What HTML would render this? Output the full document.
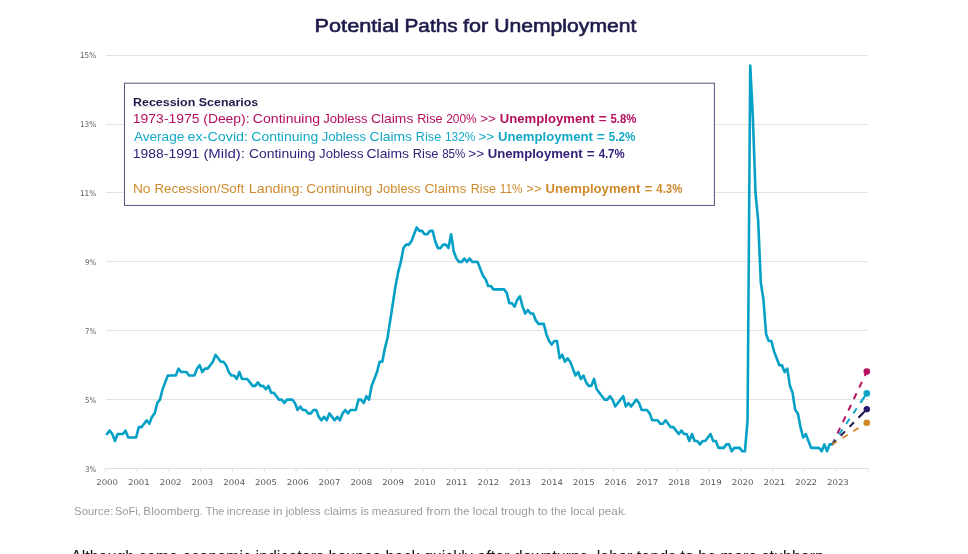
<!DOCTYPE html>
<html><head><meta charset="utf-8"><style>
html,body{margin:0;padding:0;background:#fff;}
body{width:968px;height:554px;overflow:hidden;position:relative;}
svg{position:absolute;left:0;top:0;will-change:transform;}
.yl{font-family:"DejaVu Sans",sans-serif;font-size:7.9px;fill:#606060;}
.xl{font-family:"DejaVu Sans",sans-serif;font-size:7.9px;fill:#555;}
.t{font-family:"Liberation Sans",sans-serif;}
.lg{font-family:"Liberation Sans",sans-serif;font-size:12.1px;}
.b{font-weight:bold;}
</style></head><body>
<svg width="968" height="554" viewBox="0 0 968 554">
<text x="314.56" y="32.3" class="t" fill="#1d1b4a" textLength="84.49" lengthAdjust="spacingAndGlyphs" style="font-size:18.2px" stroke="#1d1b4a" stroke-width="0.6">Potential</text>
<text x="404.54" y="32.3" class="t" fill="#1d1b4a" textLength="53.03" lengthAdjust="spacingAndGlyphs" style="font-size:18.2px" stroke="#1d1b4a" stroke-width="0.6">Paths</text>
<text x="462.98" y="32.3" class="t" fill="#1d1b4a" textLength="25.19" lengthAdjust="spacingAndGlyphs" style="font-size:18.2px" stroke="#1d1b4a" stroke-width="0.6">for</text>
<text x="494.21" y="32.3" class="t" fill="#1d1b4a" textLength="142.20" lengthAdjust="spacingAndGlyphs" style="font-size:18.2px" stroke="#1d1b4a" stroke-width="0.6">Unemployment</text>

<line x1="106" y1="55.50" x2="868" y2="55.50" stroke="#e3e3e3" stroke-width="1"/>
<text x="96.3" y="58.22" text-anchor="end" class="yl" textLength="16.4" lengthAdjust="spacingAndGlyphs">15%</text>
<line x1="106" y1="124.50" x2="868" y2="124.50" stroke="#e3e3e3" stroke-width="1"/>
<text x="96.3" y="127.10" text-anchor="end" class="yl" textLength="16.4" lengthAdjust="spacingAndGlyphs">13%</text>
<line x1="106" y1="192.50" x2="868" y2="192.50" stroke="#e3e3e3" stroke-width="1"/>
<text x="96.3" y="195.98" text-anchor="end" class="yl" textLength="16.4" lengthAdjust="spacingAndGlyphs">11%</text>
<line x1="106" y1="261.50" x2="868" y2="261.50" stroke="#e3e3e3" stroke-width="1"/>
<text x="96.3" y="264.86" text-anchor="end" class="yl" textLength="11.2" lengthAdjust="spacingAndGlyphs">9%</text>
<line x1="106" y1="330.50" x2="868" y2="330.50" stroke="#e3e3e3" stroke-width="1"/>
<text x="96.3" y="333.74" text-anchor="end" class="yl" textLength="11.2" lengthAdjust="spacingAndGlyphs">7%</text>
<line x1="106" y1="399.50" x2="868" y2="399.50" stroke="#e3e3e3" stroke-width="1"/>
<text x="96.3" y="402.62" text-anchor="end" class="yl" textLength="11.2" lengthAdjust="spacingAndGlyphs">5%</text>
<text x="96.3" y="471.50" text-anchor="end" class="yl" textLength="11.2" lengthAdjust="spacingAndGlyphs">3%</text>

<line x1="105" y1="468.50" x2="868.4" y2="468.50" stroke="#e0e0e0" stroke-width="1"/>
<line x1="105.40" y1="468.50" x2="105.40" y2="471.80" stroke="#e0e0e0" stroke-width="1"/>
<line x1="137.18" y1="468.50" x2="137.18" y2="471.80" stroke="#e0e0e0" stroke-width="1"/>
<line x1="168.95" y1="468.50" x2="168.95" y2="471.80" stroke="#e0e0e0" stroke-width="1"/>
<line x1="200.72" y1="468.50" x2="200.72" y2="471.80" stroke="#e0e0e0" stroke-width="1"/>
<line x1="232.50" y1="468.50" x2="232.50" y2="471.80" stroke="#e0e0e0" stroke-width="1"/>
<line x1="264.27" y1="468.50" x2="264.27" y2="471.80" stroke="#e0e0e0" stroke-width="1"/>
<line x1="296.05" y1="468.50" x2="296.05" y2="471.80" stroke="#e0e0e0" stroke-width="1"/>
<line x1="327.82" y1="468.50" x2="327.82" y2="471.80" stroke="#e0e0e0" stroke-width="1"/>
<line x1="359.60" y1="468.50" x2="359.60" y2="471.80" stroke="#e0e0e0" stroke-width="1"/>
<line x1="391.38" y1="468.50" x2="391.38" y2="471.80" stroke="#e0e0e0" stroke-width="1"/>
<line x1="423.15" y1="468.50" x2="423.15" y2="471.80" stroke="#e0e0e0" stroke-width="1"/>
<line x1="454.92" y1="468.50" x2="454.92" y2="471.80" stroke="#e0e0e0" stroke-width="1"/>
<line x1="486.70" y1="468.50" x2="486.70" y2="471.80" stroke="#e0e0e0" stroke-width="1"/>
<line x1="518.48" y1="468.50" x2="518.48" y2="471.80" stroke="#e0e0e0" stroke-width="1"/>
<line x1="550.25" y1="468.50" x2="550.25" y2="471.80" stroke="#e0e0e0" stroke-width="1"/>
<line x1="582.02" y1="468.50" x2="582.02" y2="471.80" stroke="#e0e0e0" stroke-width="1"/>
<line x1="613.80" y1="468.50" x2="613.80" y2="471.80" stroke="#e0e0e0" stroke-width="1"/>
<line x1="645.57" y1="468.50" x2="645.57" y2="471.80" stroke="#e0e0e0" stroke-width="1"/>
<line x1="677.35" y1="468.50" x2="677.35" y2="471.80" stroke="#e0e0e0" stroke-width="1"/>
<line x1="709.12" y1="468.50" x2="709.12" y2="471.80" stroke="#e0e0e0" stroke-width="1"/>
<line x1="740.90" y1="468.50" x2="740.90" y2="471.80" stroke="#e0e0e0" stroke-width="1"/>
<line x1="772.67" y1="468.50" x2="772.67" y2="471.80" stroke="#e0e0e0" stroke-width="1"/>
<line x1="804.45" y1="468.50" x2="804.45" y2="471.80" stroke="#e0e0e0" stroke-width="1"/>
<line x1="836.22" y1="468.50" x2="836.22" y2="471.80" stroke="#e0e0e0" stroke-width="1"/>
<line x1="868.00" y1="468.50" x2="868.00" y2="471.80" stroke="#e0e0e0" stroke-width="1"/>
<text x="96.20" y="484.9" class="xl" textLength="21.8" lengthAdjust="spacingAndGlyphs">2000</text>
<text x="127.97" y="484.9" class="xl" textLength="21.8" lengthAdjust="spacingAndGlyphs">2001</text>
<text x="159.75" y="484.9" class="xl" textLength="21.8" lengthAdjust="spacingAndGlyphs">2002</text>
<text x="191.52" y="484.9" class="xl" textLength="21.8" lengthAdjust="spacingAndGlyphs">2003</text>
<text x="223.30" y="484.9" class="xl" textLength="21.8" lengthAdjust="spacingAndGlyphs">2004</text>
<text x="255.07" y="484.9" class="xl" textLength="21.8" lengthAdjust="spacingAndGlyphs">2005</text>
<text x="286.85" y="484.9" class="xl" textLength="21.8" lengthAdjust="spacingAndGlyphs">2006</text>
<text x="318.62" y="484.9" class="xl" textLength="21.8" lengthAdjust="spacingAndGlyphs">2007</text>
<text x="350.40" y="484.9" class="xl" textLength="21.8" lengthAdjust="spacingAndGlyphs">2008</text>
<text x="382.18" y="484.9" class="xl" textLength="21.8" lengthAdjust="spacingAndGlyphs">2009</text>
<text x="413.95" y="484.9" class="xl" textLength="21.8" lengthAdjust="spacingAndGlyphs">2010</text>
<text x="445.72" y="484.9" class="xl" textLength="21.8" lengthAdjust="spacingAndGlyphs">2011</text>
<text x="477.50" y="484.9" class="xl" textLength="21.8" lengthAdjust="spacingAndGlyphs">2012</text>
<text x="509.28" y="484.9" class="xl" textLength="21.8" lengthAdjust="spacingAndGlyphs">2013</text>
<text x="541.05" y="484.9" class="xl" textLength="21.8" lengthAdjust="spacingAndGlyphs">2014</text>
<text x="572.83" y="484.9" class="xl" textLength="21.8" lengthAdjust="spacingAndGlyphs">2015</text>
<text x="604.60" y="484.9" class="xl" textLength="21.8" lengthAdjust="spacingAndGlyphs">2016</text>
<text x="636.38" y="484.9" class="xl" textLength="21.8" lengthAdjust="spacingAndGlyphs">2017</text>
<text x="668.15" y="484.9" class="xl" textLength="21.8" lengthAdjust="spacingAndGlyphs">2018</text>
<text x="699.93" y="484.9" class="xl" textLength="21.8" lengthAdjust="spacingAndGlyphs">2019</text>
<text x="731.70" y="484.9" class="xl" textLength="21.8" lengthAdjust="spacingAndGlyphs">2020</text>
<text x="763.48" y="484.9" class="xl" textLength="21.8" lengthAdjust="spacingAndGlyphs">2021</text>
<text x="795.25" y="484.9" class="xl" textLength="21.8" lengthAdjust="spacingAndGlyphs">2022</text>
<text x="827.02" y="484.9" class="xl" textLength="21.8" lengthAdjust="spacingAndGlyphs">2023</text>

<polyline points="107.00,434.06 109.65,430.62 112.29,434.06 114.94,440.95 117.59,434.06 120.23,434.06 122.88,434.06 125.53,430.62 128.18,437.50 130.82,437.50 133.47,437.50 136.12,437.50 138.76,427.17 141.41,427.17 144.06,423.73 146.70,420.28 149.35,423.73 152.00,416.84 154.65,413.40 157.29,403.06 159.94,399.62 162.59,389.29 165.23,382.40 167.88,375.51 170.53,375.51 173.18,375.51 175.82,375.51 178.47,368.62 181.12,372.07 183.76,372.07 186.41,372.07 189.06,375.51 191.70,375.51 194.35,375.51 197.00,368.62 199.64,365.18 202.29,372.07 204.94,368.62 207.59,368.62 210.23,365.18 212.88,361.74 215.53,354.85 218.17,358.29 220.82,361.74 223.47,361.74 226.12,365.18 228.76,372.07 231.41,375.51 234.06,375.51 236.70,378.96 239.35,372.07 242.00,378.96 244.64,378.96 247.29,378.96 249.94,382.40 252.58,385.84 255.23,385.84 257.88,382.40 260.53,385.84 263.17,385.84 265.82,389.29 268.47,385.84 271.11,392.73 273.76,392.73 276.41,396.18 279.05,399.62 281.70,399.62 284.35,403.06 287.00,399.62 289.64,399.62 292.29,399.62 294.94,403.06 297.58,409.95 300.23,406.51 302.88,409.95 305.52,409.95 308.17,413.40 310.82,413.40 313.47,409.95 316.11,409.95 318.76,416.84 321.41,420.28 324.05,416.84 326.70,420.28 329.35,413.40 332.00,416.84 334.64,420.28 337.29,416.84 339.94,420.28 342.58,413.40 345.23,409.95 347.88,413.40 350.52,409.95 353.17,409.95 355.82,409.95 358.46,399.62 361.11,399.62 363.76,403.06 366.41,396.18 369.05,399.62 371.70,385.84 374.35,378.96 376.99,372.07 379.64,361.74 382.29,361.74 384.94,347.96 387.58,337.63 390.23,320.41 392.88,303.19 395.52,285.97 398.17,272.19 400.82,261.86 403.46,248.08 406.11,244.64 408.76,244.64 411.40,241.20 414.05,234.31 416.70,227.42 419.35,230.86 421.99,230.86 424.64,234.31 427.29,234.31 429.93,230.86 432.58,230.86 435.23,241.20 437.88,248.08 440.52,248.08 443.17,244.64 445.82,244.64 448.46,248.08 451.11,234.31 453.76,251.53 456.40,258.42 459.05,261.86 461.70,261.86 464.34,258.42 466.99,261.86 469.64,258.42 472.29,261.86 474.93,261.86 477.58,261.86 480.23,268.75 482.87,275.64 485.52,279.08 488.17,285.97 490.81,285.97 493.46,289.41 496.11,289.41 498.76,289.41 501.40,289.41 504.05,289.41 506.70,292.86 509.34,303.19 511.99,303.19 514.64,306.63 517.28,299.74 519.93,296.30 522.58,306.63 525.23,313.52 527.87,310.08 530.52,313.52 533.17,313.52 535.81,320.41 538.46,323.85 541.11,323.85 543.75,323.85 546.40,334.18 549.05,341.07 551.70,344.52 554.34,341.07 556.99,341.07 559.64,358.29 562.28,354.85 564.93,361.74 567.58,358.29 570.22,361.74 572.87,368.62 575.52,375.51 578.17,372.07 580.81,378.96 583.46,375.51 586.11,382.40 588.75,385.84 591.40,385.84 594.05,378.96 596.69,389.29 599.34,392.73 601.99,396.18 604.64,399.62 607.28,399.62 609.93,396.18 612.58,399.62 615.22,406.51 617.87,403.06 620.52,399.62 623.16,396.18 625.81,406.51 628.46,403.06 631.11,406.51 633.75,403.06 636.40,399.62 639.05,403.06 641.69,409.95 644.34,409.95 646.99,409.95 649.63,413.40 652.28,420.28 654.93,420.28 657.58,420.28 660.22,423.73 662.87,423.73 665.52,420.28 668.16,423.73 670.81,427.17 673.46,427.17 676.10,430.62 678.75,434.06 681.40,430.62 684.05,434.06 686.69,434.06 689.34,440.95 691.99,434.06 694.63,440.95 697.28,440.95 699.93,444.39 702.57,440.95 705.22,440.95 707.87,437.50 710.52,434.06 713.16,440.95 715.81,440.95 718.46,447.84 721.10,447.84 723.75,447.84 726.40,444.39 729.04,444.39 731.69,451.28 734.34,447.84 736.99,447.84 739.63,447.84 742.28,451.28 744.93,451.28 747.57,420.28 750.22,65.55 752.87,117.21 755.51,192.98 758.16,220.53 760.81,282.52 763.46,299.74 766.10,334.18 768.75,341.07 771.40,341.07 774.04,351.40 776.69,358.29 779.34,365.18 781.98,365.18 784.63,372.07 787.28,368.62 789.93,385.84 792.57,392.73 795.22,409.95 797.87,413.40 800.51,427.17 803.16,437.50 805.81,434.06 808.45,440.95 811.10,447.84 813.75,447.84 816.40,447.84 819.04,447.84 821.69,451.28 824.34,444.39 826.98,451.28 829.63,444.39 832.28,444.39" fill="none" stroke="#04a0c5" stroke-width="2.6" stroke-linejoin="round" stroke-linecap="round"/>
<line x1="832.28" y1="444.39" x2="866.80" y2="371.60" stroke="#b5105e" stroke-width="2" stroke-dasharray="6.2 6.55" stroke-dashoffset="0.75"/>
<circle cx="866.80" cy="371.60" r="3.3" fill="#b5105e"/>
<line x1="832.28" y1="444.39" x2="866.80" y2="393.40" stroke="#0ea5c8" stroke-width="2" stroke-dasharray="6.2 6.55" stroke-dashoffset="0.75"/>
<line x1="860.48" y1="402.74" x2="866.80" y2="393.40" stroke="#0ea5c8" stroke-width="2"/>
<circle cx="866.80" cy="393.40" r="3.3" fill="#0ea5c8"/>
<line x1="832.28" y1="444.39" x2="866.80" y2="409.20" stroke="#211b52" stroke-width="2" stroke-dasharray="6.2 6.55" stroke-dashoffset="0.75"/>
<line x1="858.57" y1="417.59" x2="866.80" y2="409.20" stroke="#211b52" stroke-width="2"/>
<circle cx="866.80" cy="409.20" r="2.9" fill="#2d1675" stroke="#211b52" stroke-width="0.8"/>
<line x1="832.28" y1="444.39" x2="866.80" y2="422.80" stroke="#ce8a2a" stroke-width="2" stroke-dasharray="6.2 6.55" stroke-dashoffset="0.75"/>
<circle cx="866.80" cy="422.80" r="3.3" fill="#ce8a2a"/>

<rect x="124.5" y="83.2" width="589.9" height="122.2" fill="#fff" stroke="#57527d" stroke-width="1"/>
<line x1="133" y1="106.6" x2="259.5" y2="106.6" stroke="#dddce6" stroke-width="0.8"/>
<text x="133.0" y="106.1" style="font-size:11.5px" class="lg b" fill="#1d1b4a" textLength="125.3" lengthAdjust="spacingAndGlyphs">Recession Scenarios</text>
<text x="132.85" y="123.3" class="lg" fill="#b5105e" textLength="66.74" lengthAdjust="spacingAndGlyphs">1973-1975</text>
<text x="203.27" y="123.3" class="lg" fill="#b5105e" textLength="46.24" lengthAdjust="spacingAndGlyphs">(Deep):</text>
<text x="252.80" y="123.3" class="lg" fill="#b5105e" textLength="67.34" lengthAdjust="spacingAndGlyphs">Continuing</text>
<text x="323.30" y="123.3" class="lg" fill="#b5105e" textLength="44.36" lengthAdjust="spacingAndGlyphs">Jobless</text>
<text x="370.90" y="123.3" class="lg" fill="#b5105e" textLength="42.49" lengthAdjust="spacingAndGlyphs">Claims</text>
<text x="417.18" y="123.3" class="lg" fill="#b5105e" textLength="25.39" lengthAdjust="spacingAndGlyphs">Rise</text>
<text x="446.20" y="123.3" class="lg" fill="#b5105e" textLength="30.49" lengthAdjust="spacingAndGlyphs">200%</text>
<text x="480.24" y="123.3" class="lg" fill="#b5105e" textLength="15.50" lengthAdjust="spacingAndGlyphs">&gt;&gt;</text>
<text x="499.81" y="123.3" class="lg b" fill="#b5105e" textLength="94.86" lengthAdjust="spacingAndGlyphs">Unemployment</text>
<text x="598.86" y="123.3" class="lg b" fill="#b5105e" textLength="7.86" lengthAdjust="spacingAndGlyphs">=</text>
<text x="610.56" y="123.3" class="lg b" fill="#b5105e" textLength="25.92" lengthAdjust="spacingAndGlyphs">5.8%</text>
<text x="133.90" y="140.85" class="lg" fill="#13a8c8" textLength="50.44" lengthAdjust="spacingAndGlyphs">Average</text>
<text x="187.53" y="140.85" class="lg" fill="#13a8c8" textLength="60.52" lengthAdjust="spacingAndGlyphs">ex-Covid:</text>
<text x="251.30" y="140.85" class="lg" fill="#13a8c8" textLength="66.93" lengthAdjust="spacingAndGlyphs">Continuing</text>
<text x="321.80" y="140.85" class="lg" fill="#13a8c8" textLength="44.26" lengthAdjust="spacingAndGlyphs">Jobless</text>
<text x="369.60" y="140.85" class="lg" fill="#13a8c8" textLength="42.49" lengthAdjust="spacingAndGlyphs">Claims</text>
<text x="415.89" y="140.85" class="lg" fill="#13a8c8" textLength="25.29" lengthAdjust="spacingAndGlyphs">Rise</text>
<text x="444.91" y="140.85" class="lg" fill="#13a8c8" textLength="30.48" lengthAdjust="spacingAndGlyphs">132%</text>
<text x="478.53" y="140.85" class="lg" fill="#13a8c8" textLength="15.72" lengthAdjust="spacingAndGlyphs">&gt;&gt;</text>
<text x="498.01" y="140.85" class="lg b" fill="#13a8c8" textLength="94.86" lengthAdjust="spacingAndGlyphs">Unemployment</text>
<text x="597.06" y="140.85" class="lg b" fill="#13a8c8" textLength="7.86" lengthAdjust="spacingAndGlyphs">=</text>
<text x="608.75" y="140.85" class="lg b" fill="#13a8c8" textLength="26.53" lengthAdjust="spacingAndGlyphs">5.2%</text>
<text x="132.86" y="158.1" class="lg" fill="#35207a" textLength="66.50" lengthAdjust="spacingAndGlyphs">1988-1991</text>
<text x="203.40" y="158.1" class="lg" fill="#35207a" textLength="41.58" lengthAdjust="spacingAndGlyphs">(Mild):</text>
<text x="248.90" y="158.1" class="lg" fill="#35207a" textLength="66.72" lengthAdjust="spacingAndGlyphs">Continuing</text>
<text x="319.10" y="158.1" class="lg" fill="#35207a" textLength="44.36" lengthAdjust="spacingAndGlyphs">Jobless</text>
<text x="366.50" y="158.1" class="lg" fill="#35207a" textLength="42.49" lengthAdjust="spacingAndGlyphs">Claims</text>
<text x="412.77" y="158.1" class="lg" fill="#35207a" textLength="25.71" lengthAdjust="spacingAndGlyphs">Rise</text>
<text x="442.18" y="158.1" class="lg" fill="#35207a" textLength="23.14" lengthAdjust="spacingAndGlyphs">85%</text>
<text x="468.32" y="158.1" class="lg" fill="#35207a" textLength="15.83" lengthAdjust="spacingAndGlyphs">&gt;&gt;</text>
<text x="487.71" y="158.1" class="lg b" fill="#35207a" textLength="94.86" lengthAdjust="spacingAndGlyphs">Unemployment</text>
<text x="586.76" y="158.1" class="lg b" fill="#35207a" textLength="7.86" lengthAdjust="spacingAndGlyphs">=</text>
<text x="598.63" y="158.1" class="lg b" fill="#35207a" textLength="25.95" lengthAdjust="spacingAndGlyphs">4.7%</text>
<text x="132.91" y="192.7" class="lg" fill="#cf8a2c" textLength="17.49" lengthAdjust="spacingAndGlyphs">No</text>
<text x="154.43" y="192.7" class="lg" fill="#cf8a2c" textLength="89.74" lengthAdjust="spacingAndGlyphs">Recession/Soft</text>
<text x="248.86" y="192.7" class="lg" fill="#cf8a2c" textLength="54.44" lengthAdjust="spacingAndGlyphs">Landing:</text>
<text x="306.31" y="192.7" class="lg" fill="#cf8a2c" textLength="66.01" lengthAdjust="spacingAndGlyphs">Continuing</text>
<text x="376.61" y="192.7" class="lg" fill="#cf8a2c" textLength="43.96" lengthAdjust="spacingAndGlyphs">Jobless</text>
<text x="424.41" y="192.7" class="lg" fill="#cf8a2c" textLength="42.08" lengthAdjust="spacingAndGlyphs">Claims</text>
<text x="470.79" y="192.7" class="lg" fill="#cf8a2c" textLength="25.18" lengthAdjust="spacingAndGlyphs">Rise</text>
<text x="499.81" y="192.7" class="lg" fill="#cf8a2c" textLength="22.77" lengthAdjust="spacingAndGlyphs">11%</text>
<text x="526.36" y="192.7" class="lg" fill="#cf8a2c" textLength="15.06" lengthAdjust="spacingAndGlyphs">&gt;&gt;</text>
<text x="545.41" y="192.7" class="lg b" fill="#cf8a2c" textLength="94.86" lengthAdjust="spacingAndGlyphs">Unemployment</text>
<text x="644.46" y="192.7" class="lg b" fill="#cf8a2c" textLength="7.86" lengthAdjust="spacingAndGlyphs">=</text>
<text x="656.33" y="192.7" class="lg b" fill="#cf8a2c" textLength="25.95" lengthAdjust="spacingAndGlyphs">4.3%</text>

<text x="74.09" y="515.0" class="t" fill="#9b9b9b" textLength="39.25" lengthAdjust="spacingAndGlyphs" style="font-size:10.3px">Source:</text>
<text x="115.00" y="515.0" class="t" fill="#9b9b9b" textLength="25.67" lengthAdjust="spacingAndGlyphs" style="font-size:10.3px">SoFi,</text>
<text x="143.37" y="515.0" class="t" fill="#9b9b9b" textLength="59.63" lengthAdjust="spacingAndGlyphs" style="font-size:10.3px">Bloomberg.</text>
<text x="205.68" y="515.0" class="t" fill="#9b9b9b" textLength="18.64" lengthAdjust="spacingAndGlyphs" style="font-size:10.3px">The</text>
<text x="226.75" y="515.0" class="t" fill="#9b9b9b" textLength="43.46" lengthAdjust="spacingAndGlyphs" style="font-size:10.3px">increase</text>
<text x="273.10" y="515.0" class="t" fill="#9b9b9b" textLength="9.53" lengthAdjust="spacingAndGlyphs" style="font-size:10.3px">in</text>
<text x="285.68" y="515.0" class="t" fill="#9b9b9b" textLength="35.09" lengthAdjust="spacingAndGlyphs" style="font-size:10.3px">jobless</text>
<text x="324.13" y="515.0" class="t" fill="#9b9b9b" textLength="32.96" lengthAdjust="spacingAndGlyphs" style="font-size:10.3px">claims</text>
<text x="360.68" y="515.0" class="t" fill="#9b9b9b" textLength="8.04" lengthAdjust="spacingAndGlyphs" style="font-size:10.3px">is</text>
<text x="371.75" y="515.0" class="t" fill="#9b9b9b" textLength="51.22" lengthAdjust="spacingAndGlyphs" style="font-size:10.3px">measured</text>
<text x="426.22" y="515.0" class="t" fill="#9b9b9b" textLength="24.48" lengthAdjust="spacingAndGlyphs" style="font-size:10.3px">from</text>
<text x="453.83" y="515.0" class="t" fill="#9b9b9b" textLength="15.57" lengthAdjust="spacingAndGlyphs" style="font-size:10.3px">the</text>
<text x="472.81" y="515.0" class="t" fill="#9b9b9b" textLength="25.00" lengthAdjust="spacingAndGlyphs" style="font-size:10.3px">local</text>
<text x="501.02" y="515.0" class="t" fill="#9b9b9b" textLength="33.45" lengthAdjust="spacingAndGlyphs" style="font-size:10.3px">trough</text>
<text x="537.72" y="515.0" class="t" fill="#9b9b9b" textLength="9.94" lengthAdjust="spacingAndGlyphs" style="font-size:10.3px">to</text>
<text x="551.13" y="515.0" class="t" fill="#9b9b9b" textLength="15.57" lengthAdjust="spacingAndGlyphs" style="font-size:10.3px">the</text>
<text x="570.43" y="515.0" class="t" fill="#9b9b9b" textLength="24.25" lengthAdjust="spacingAndGlyphs" style="font-size:10.3px">local</text>
<text x="598.23" y="515.0" class="t" fill="#9b9b9b" textLength="28.84" lengthAdjust="spacingAndGlyphs" style="font-size:10.3px">peak.</text>

<text x="71" y="562" class="t" font-size="17" fill="#111" textLength="753" lengthAdjust="spacingAndGlyphs">Although some economic indicators bounce back quickly after downturns, labor tends to be more stubborn</text>
</svg>
</body></html>
